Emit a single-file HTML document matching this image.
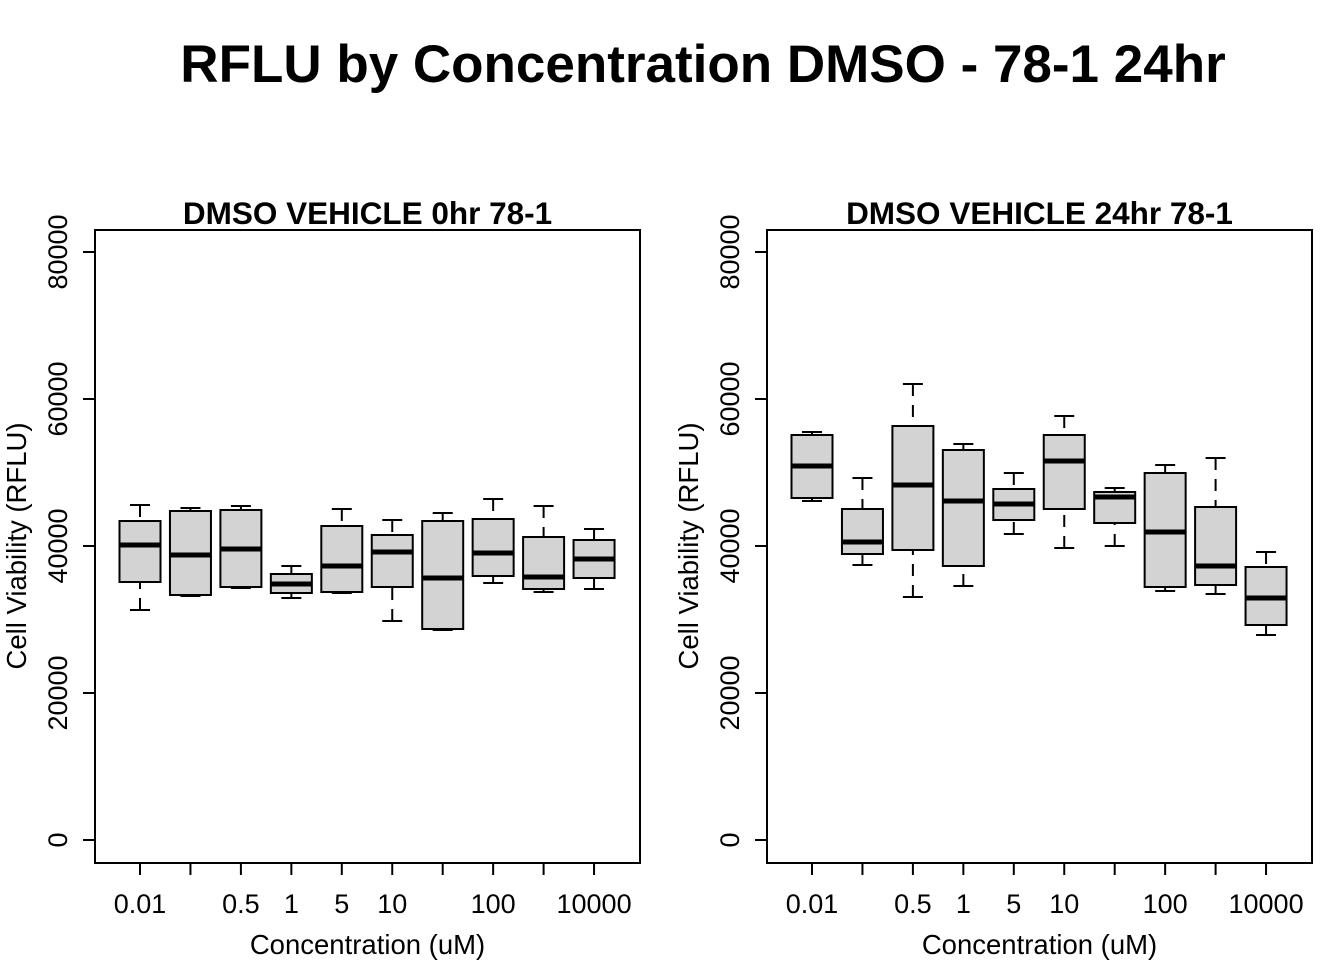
<!DOCTYPE html>
<html><head><meta charset="utf-8"><style>
body{margin:0;background:#fff}
svg text{font-family:"Liberation Sans",Arial,sans-serif;fill:#000}
</style></head><body>
<svg id="c" width="1344" height="960" xmlns="http://www.w3.org/2000/svg">
<rect width="1344" height="960" fill="#fff"/>
<text x="703" y="82" font-size="53" font-weight="bold" text-anchor="middle">RFLU by Concentration DMSO - 78-1 24hr</text>
</svg>
<script>
const categories=["0.01","0.1","0.5","1","5","10","50","100","1000","10000"];
const tickLabels=["0.01","","0.5","1","5","10","","100","","10000"];
const yTicks=[0,20000,40000,60000,80000];
const p1WhiskLow=[31293,33197,34286,32925,33605,29796,28571,34966,33741,34150];
const p1Q1=[35100,33333,34422,33605,33741,34422,28707,35918,34150,35646];
const p1Median=[40136,38776,39592,34830,37279,39184,35646,39048,35782,38231];
const p1Q3=[43400,44762,44898,36190,42721,41497,43401,43673,41224,40816];
const p1WhiskHigh=[45578,45170,45442,37279,45034,43537,44490,46395,45442,42313];
const p2WhiskLow=[46122,37415,33061,34558,41633,39728,40000,33878,33469,27891];
const p2Q1=[46531,38912,39456,37279,43537,45034,43129,34422,34694,29252];
const p2Median=[50884,40544,48299,46122,45714,51565,46667,41905,37279,32925];
const p2Q3=[55102,45034,56327,53061,47755,55102,47347,49932,45306,37143];
const p2WhiskHigh=[55510,49252,62041,53878,49932,57687,47891,51020,51973,39184];

const svg=document.getElementById('c');
const NS='http://www.w3.org/2000/svg';
function mk(tag,attrs,parent){const e=document.createElementNS(NS,tag);for(const k in attrs)e.setAttribute(k,attrs[k]);(parent||svg).appendChild(e);return e;}
function panel(x0,title,lo,q1,med,q3,hi,pfx){
  const g=mk('g',{});
  
  
  const left=x0,right=x0+545,top=230,bottom=863;
  const y=v=>840-v*0.00735;
  const xp=i=>x0+45+i*50.45;
  const frame=mk('rect',{x:left,y:top,width:right-left,height:bottom-top,fill:'none',stroke:'#000','stroke-width':2},g);
  
  
  const t=mk('text',{x:(left+right)/2,y:224,'font-size':31.5,'font-weight':'bold','text-anchor':'middle'},g);t.textContent=title;
  
  
  mk('line',{x1:left,x2:left,y1:y(0),y2:y(80000),stroke:'#000','stroke-width':2},g);
  yTicks.forEach(v=>{
    mk('line',{x1:left-12,x2:left,y1:y(v),y2:y(v),stroke:'#000','stroke-width':2},g);
    const tl=mk('text',{x:0,y:0,'font-size':27,'text-anchor':'middle',transform:`translate(${left-28},${y(v)}) rotate(-90)`},g);
    tl.textContent=v;
    
    
  });
  const yl=mk('text',{x:0,y:0,'font-size':27.5,'text-anchor':'middle',transform:`translate(${left-69},${546}) rotate(-90)`},g);
  yl.textContent='Cell Viability (RFLU)';
  
  
  mk('line',{x1:xp(0),x2:xp(9),y1:bottom,y2:bottom,stroke:'#000','stroke-width':2},g);
  categories.forEach((c,i)=>{
    mk('line',{x1:xp(i),x2:xp(i),y1:bottom,y2:bottom+12,stroke:'#000','stroke-width':2},g);
    if(tickLabels[i]){const tl=mk('text',{x:xp(i),y:913,'font-size':27,'text-anchor':'middle'},g);tl.textContent=tickLabels[i];
    
    }
    const hw=20.5,sw=10;
    const bg=mk('g',{},g);
    
    
    mk('line',{x1:xp(i),x2:xp(i),y1:y(hi[i]),y2:y(q3[i]),stroke:'#000','stroke-width':2,'stroke-dasharray':'12,9'},bg);
    mk('line',{x1:xp(i),x2:xp(i),y1:y(lo[i]),y2:y(q1[i]),stroke:'#000','stroke-width':2,'stroke-dasharray':'12,9'},bg);
    mk('line',{x1:xp(i)-sw,x2:xp(i)+sw,y1:y(hi[i]),y2:y(hi[i]),stroke:'#000','stroke-width':2},bg);
    mk('line',{x1:xp(i)-sw,x2:xp(i)+sw,y1:y(lo[i]),y2:y(lo[i]),stroke:'#000','stroke-width':2},bg);
    mk('rect',{x:xp(i)-hw,y:y(q3[i]),width:2*hw,height:y(q1[i])-y(q3[i]),fill:'#d3d3d3',stroke:'#000','stroke-width':2},bg);
    mk('line',{x1:xp(i)-hw,x2:xp(i)+hw,y1:y(med[i]),y2:y(med[i]),stroke:'#000','stroke-width':5},bg);
  });
  const xl=mk('text',{x:(left+right)/2,y:954,'font-size':27.5,'text-anchor':'middle'},g);
  xl.textContent='Concentration (uM)';
  
  
}
panel(95,'DMSO VEHICLE 0hr 78-1',p1WhiskLow,p1Q1,p1Median,p1Q3,p1WhiskHigh,'left');
panel(767,'DMSO VEHICLE 24hr 78-1',p2WhiskLow,p2Q1,p2Median,p2Q3,p2WhiskHigh,'right');
</script>
</body></html>
